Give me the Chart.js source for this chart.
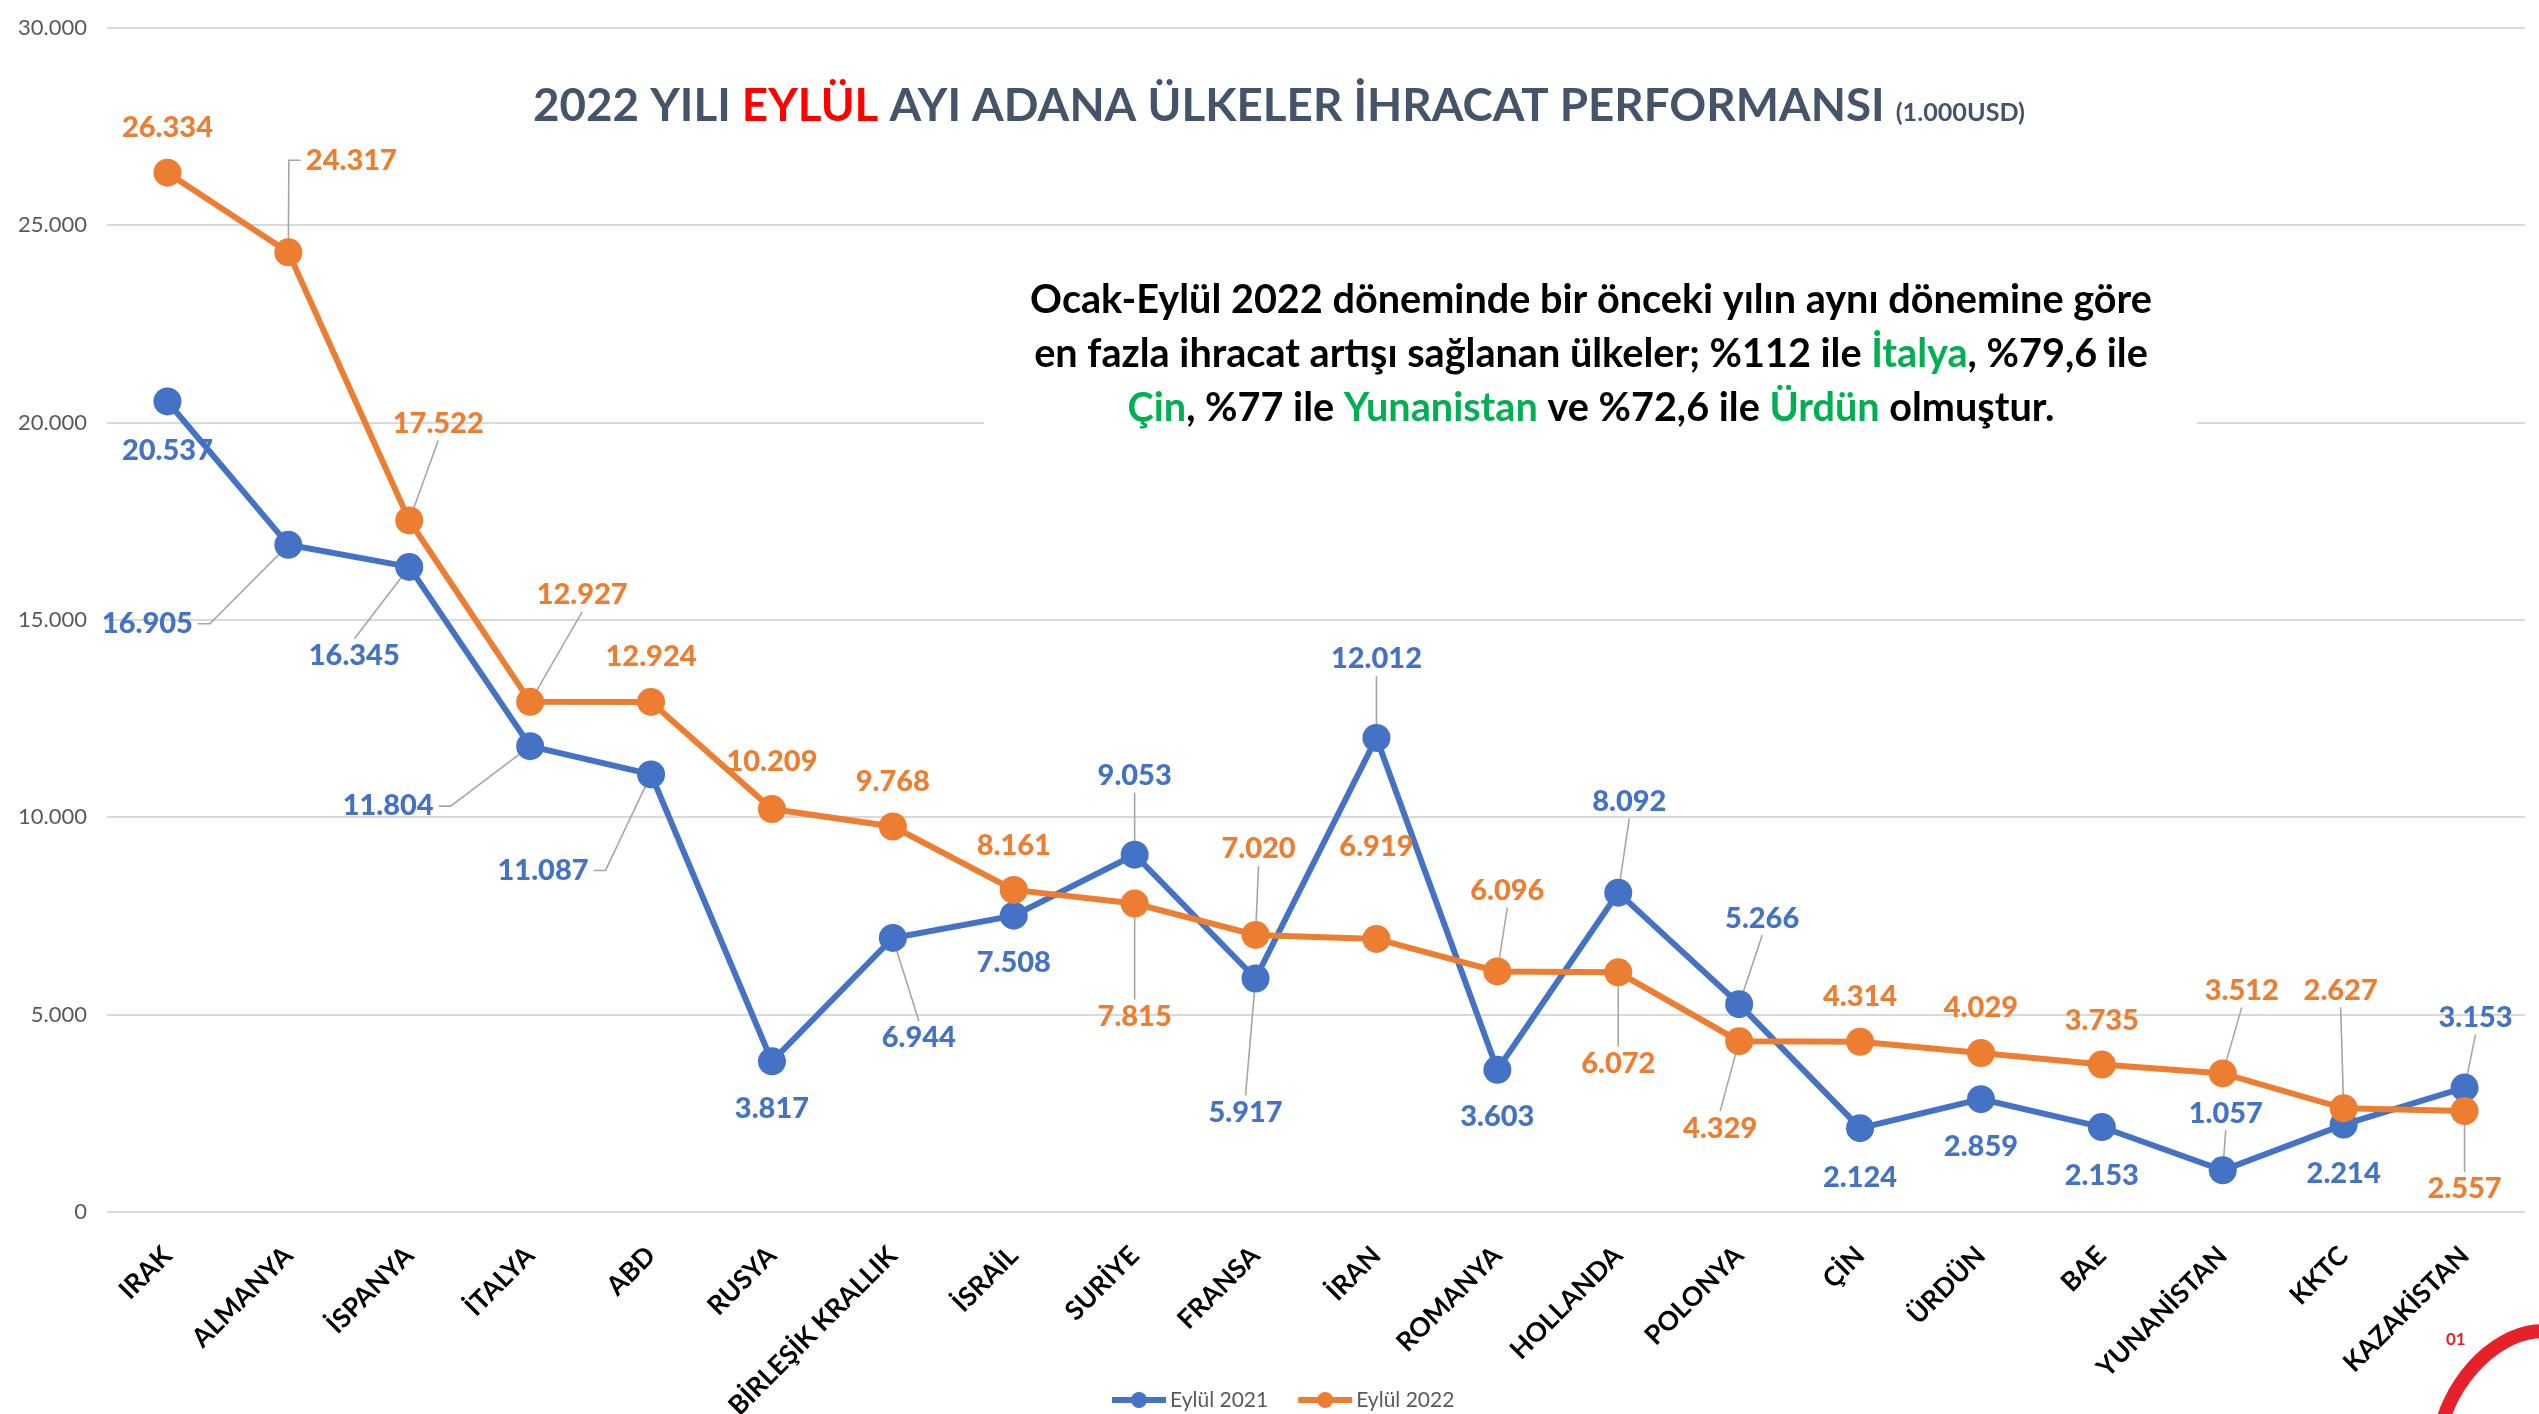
<!DOCTYPE html>
<html>
<head>
<meta charset="utf-8">
<script src="https://cdn.jsdelivr.net/npm/chart.js@4.4.0/dist/chart.umd.min.js"></script>
<style>
html, body { margin: 0; padding: 0; background: #ffffff; }
canvas { display: block; }
</style>
</head>
<body>
<canvas id="chart" width="2539" height="1414"></canvas>
<script>
const countries = ["IRAK", "ALMANYA", "İSPANYA", "İTALYA", "ABD", "RUSYA", "BİRLEŞİK KRALLIK", "İSRAİL", "SURİYE", "FRANSA",
	"İRAN", "ROMANYA", "HOLLANDA", "POLONYA", "ÇİN", "ÜRDÜN", "BAE", "YUNANİSTAN", "KKTC", "KAZAKİSTAN"];
const sep2021 = [20537, 16905, 16345, 11804, 11087, 3817, 6944, 7508, 9053, 5917,
	12012, 3603, 8092, 5266, 2124, 2859, 2153, 1057, 2214, 3153];
const sep2022 = [26334, 24317, 17522, 12927, 12924, 10209, 9768, 8161, 7815, 7020,
	6919, 6096, 6072, 4329, 4314, 4029, 3735, 3512, 2627, 2557];
const seriesNames = ["Eylül 2021", "Eylül 2022"];
const yMax = 30000;
const yStep = 5000;

// where each value label sits relative to its point, and leader style (0 none, 1 straight, 2 elbow)
const labelOffsets2021 = [[0, 49, 0], [-141, 79, 2], [-55, 89, 1], [-142, 60, 2], [-108, 96, 2], [0, 47, 0], [26, 100, 1], [0, 47, 0], [0, -79, 1], [-10, 134, 1],
	[0, -79, 1], [0, 47, 0], [11, -91, 1], [23, -86, 1], [0, 49, 0], [0, 47, 0], [0, 49, 0], [3, -57, 1], [0, 49, 0], [11, -70, 1]];
const labelOffsets2022 = [[0, -45, 0], [63, -92, 2], [29, -97, 1], [52, -107, 1], [0, -45, 0], [0, -47, 0], [0, -45, 0], [0, -44, 0], [0, 113, 1], [3, -86, 1],
	[0, -92, 0], [10, -81, 1], [0, 91, 1], [-19, 87, 1], [0, -45, 0], [0, -45, 0], [0, -44, 0], [19, -83, 1], [-3, -118, 1], [0, 78, 1]];

const BLUE = "#4472C4";
const ORANGE = "#ED7D31";
const GREEN = "#00B050";
const DARK = "#44546A";
const FONT = "Lato, 'Open Sans', sans-serif";
const LABEL_FONT = `900 29px ${FONT}`;

const fmt = v => Number(v).toLocaleString("tr-TR");

function drawRuns(ctx, runs, cx, y) {
	let total = 0;
	runs.forEach(r => { ctx.font = r.font; total += ctx.measureText(r.text).width; });
	let x = cx - total / 2;
	runs.forEach(r => {
		ctx.font = r.font;
		ctx.fillStyle = r.color;
		ctx.fillText(r.text, x, y);
		x += ctx.measureText(r.text).width;
	});
}

const decorations = {
	id: "decorations",
	beforeDatasetsDraw(chart) {
		const ctx = chart.ctx;
		ctx.save();
		// white panel behind the note
		ctx.fillStyle = "#ffffff";
		ctx.fillRect(984, 262, 1213, 176);

		// title
		ctx.textBaseline = "alphabetic";
		let size = 50;
		ctx.font = `bold ${size}px ${FONT}`;
		const mainW = ctx.measureText("2022 YILI EYLÜL AYI ADANA ÜLKELER İHRACAT PERFORMANSI").width;
		size = size * 1352 / mainW;
		const tf = `bold ${size}px ${FONT}`;
		drawRuns(ctx, [
			{ text: "2022 YILI ", font: tf, color: DARK },
			{ text: "EYLÜL", font: tf, color: "#FF0000" },
			{ text: " AYI ADANA ÜLKELER İHRACAT PERFORMANSI ", font: tf, color: DARK },
			{ text: "(1.000USD)", font: `bold ${size * 0.55}px ${FONT}`, color: DARK }
		], 1279, 121);

		// note
		let ns = 36;
		ctx.font = `bold ${ns}px ${FONT}`;
		const l1 = "Ocak-Eylül 2022 döneminde bir önceki yılın aynı dönemine göre";
		ns = ns * 1122 / ctx.measureText(l1).width;
		const nf = `bold ${ns}px ${FONT}`;
		ctx.textBaseline = "middle";
		drawRuns(ctx, [{ text: l1, font: nf, color: "#000000" }], 1591, 300);
		drawRuns(ctx, [
			{ text: "en fazla ihracat artışı sağlanan ülkeler; %112 ile ", font: nf, color: "#000000" },
			{ text: "İtalya", font: nf, color: GREEN },
			{ text: ", %79,6 ile", font: nf, color: "#000000" }
		], 1591, 354);
		drawRuns(ctx, [
			{ text: "Çin", font: nf, color: GREEN },
			{ text: ", %77 ile ", font: nf, color: "#000000" },
			{ text: "Yunanistan", font: nf, color: GREEN },
			{ text: " ve %72,6 ile ", font: nf, color: "#000000" },
			{ text: "Ürdün", font: nf, color: GREEN },
			{ text: " olmuştur.", font: nf, color: "#000000" }
		], 1591, 408);

		// leader lines under the markers
		ctx.font = LABEL_FONT;
		ctx.strokeStyle = "#A6A6A6";
		ctx.lineWidth = 1.6;
		chart.data.datasets.forEach((ds, di) => {
			const meta = chart.getDatasetMeta(di);
			ds.labelOffsets.forEach((o, i) => {
				if (!o[2]) return;
				const p = meta.data[i];
				const lx = p.x + o[0], ly = p.y + o[1];
				const w = ctx.measureText(fmt(ds.data[i])).width;
				ctx.beginPath();
				ctx.moveTo(p.x, p.y);
				if (o[2] === 1) {
					ctx.lineTo(lx, ly + (o[1] < 0 ? 17 : -17));
				} else {
					const sign = o[0] < 0 ? 1 : -1;
					const edge = lx + sign * (w / 2 + 5);
					ctx.lineTo(edge + sign * 12, ly);
					ctx.lineTo(edge, ly);
				}
				ctx.stroke();
			});
		});
		ctx.restore();
	},
	afterDatasetsDraw(chart) {
		const ctx = chart.ctx;
		ctx.save();
		ctx.font = LABEL_FONT;
		ctx.textAlign = "center";
		ctx.textBaseline = "middle";
		chart.data.datasets.forEach((ds, di) => {
			const meta = chart.getDatasetMeta(di);
			ctx.fillStyle = ds.borderColor;
			ds.data.forEach((v, i) => {
				const p = meta.data[i];
				const o = ds.labelOffsets[i];
				ctx.fillText(fmt(v), p.x + o[0], p.y + o[1]);
			});
		});

		// legend
		ctx.textAlign = "left";
		ctx.font = `21px ${FONT}`;
		const ly = 1400;
		let x = 1112;
		chart.data.datasets.slice().sort((a, b) => a.legendIndex - b.legendIndex).forEach(ds => {
			ctx.strokeStyle = ds.borderColor;
			ctx.fillStyle = ds.borderColor;
			ctx.lineWidth = 6;
			ctx.beginPath();
			ctx.moveTo(x, ly);
			ctx.lineTo(x + 54, ly);
			ctx.stroke();
			ctx.beginPath();
			ctx.arc(x + 27, ly, 8, 0, Math.PI * 2);
			ctx.fill();
			ctx.fillStyle = "#595959";
			ctx.fillText(ds.label, x + 58, ly);
			x += 58 + ctx.measureText(ds.label).width + 30;
		});

		// corner logo
		ctx.fillStyle = "#E8202A";
		ctx.font = `bold 17px ${FONT}`;
		ctx.fillText("01", 2446, 1340);
		ctx.strokeStyle = "#E8202A";
		ctx.lineWidth = 14;
		ctx.beginPath();
		ctx.ellipse(2520, 1430, 75, 105, 0.5, Math.PI * 0.85, Math.PI * 1.7);
		ctx.stroke();
		ctx.restore();
	}
};

new Chart(document.getElementById("chart"), {
	type: "line",
	data: {
		labels: countries,
		datasets: [
			{
				label: seriesNames[0],
				data: sep2021,
				labelOffsets: labelOffsets2021,
				legendIndex: 0,
				order: 1,
				borderColor: BLUE,
				backgroundColor: BLUE,
				borderWidth: 6,
				pointRadius: 14,
				pointBorderWidth: 0,
				tension: 0
			},
			{
				label: seriesNames[1],
				data: sep2022,
				labelOffsets: labelOffsets2022,
				legendIndex: 1,
				order: 0,
				borderColor: ORANGE,
				backgroundColor: ORANGE,
				borderWidth: 6,
				pointRadius: 14,
				pointBorderWidth: 0,
				tension: 0
			}
		]
	},
	options: {
		responsive: false,
		animation: false,
		layout: { padding: { top: 28, right: 9, left: 0, bottom: 0 } },
		plugins: {
			legend: { display: false },
			tooltip: { enabled: false },
			title: { display: false }
		},
		scales: {
			x: {
				offset: true,
				grid: { display: false },
				border: { display: false },
				ticks: {
					autoSkip: false,
					maxRotation: 45,
					minRotation: 45,
					padding: 20,
					color: "#000000",
					font: { family: FONT, size: 26.5, weight: "bold" }
				},
				afterFit: scale => { scale.height = 202; }
			},
			y: {
				min: 0,
				max: yMax,
				border: { display: false },
				grid: { color: "#D9D9D9", lineWidth: 2, drawTicks: false },
				ticks: {
					stepSize: yStep,
					padding: 20,
					color: "#595959",
					font: { family: FONT, size: 22 },
					callback: v => fmt(v)
				},
				afterFit: scale => { scale.width = 107; scale.paddingTop = 0; scale.paddingBottom = 0; }
			}
		}
	},
	plugins: [decorations]
});
</script>
</body>
</html>
